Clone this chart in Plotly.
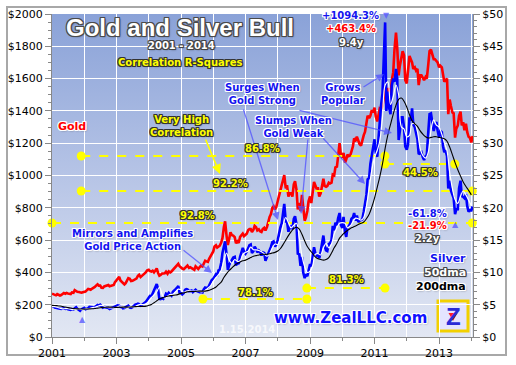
import base64
import plotly.graph_objects as go

# ---------------- data ----------------
years = list(range(2001, 2014))
half_dates = [f"{y}-{m:02d}-{d}" for y in years for m in range(1, 13) for d in ("01", "15")] + ["2014-01-01", "2014-01-15"]
month_dates = [f"{y}-{m:02d}-01" for y in years for m in range(1, 13)] + ["2014-01-01"]

gold = [
    268, 265, 264, 258, 266, 262, 257, 260, 266, 272, 268, 273, 270, 266, 266, 276, 274, 290, 283, 280, 278, 274, 274, 277,
    279, 282, 290, 298, 296, 293, 300, 303, 310, 318, 326, 318, 318, 305, 304, 313, 315, 321, 322, 314, 318, 320, 322, 340,
    351, 367, 372, 350, 340, 330, 325, 333, 355, 364, 360, 346, 348, 354, 358, 362, 378, 385, 371, 377, 385, 396, 402, 413,
    416, 408, 405, 410, 400, 410, 425, 398, 380, 384, 393, 393, 394, 404, 391, 406, 400, 406, 415, 420, 430, 440, 453, 438,
    428, 424, 420, 426, 432, 442, 428, 432, 427, 420, 416, 437, 426, 421, 433, 442, 437, 460, 472, 468, 465, 484, 502, 516,
    530, 560, 568, 554, 558, 565, 585, 612, 680, 716, 625, 570, 610, 648, 630, 628, 618, 580, 592, 582, 620, 630, 640, 625,
    632, 640, 662, 668, 668, 650, 664, 688, 680, 660, 667, 655, 650, 668, 676, 660, 680, 715, 744, 760, 800, 810, 790, 805,
    846, 885, 920, 940, 972, 1003, 920, 940, 870, 890, 890, 870, 945, 965, 910, 790, 830, 780, 880, 810, 720, 740, 780, 840,
    870, 830, 900, 960, 940, 920, 920, 870, 890, 930, 980, 935, 930, 935, 955, 950, 955, 1005, 1000, 1050, 1055, 1120, 1200, 1130,
    1110, 1140, 1080, 1100, 1130, 1120, 1125, 1150, 1180, 1230, 1220, 1240, 1210, 1195, 1185, 1225, 1250, 1270, 1315, 1370, 1355, 1370, 1405, 1390,
    1420, 1365, 1335, 1370, 1415, 1410, 1430, 1480, 1555, 1500, 1540, 1530, 1490, 1590, 1640, 1780, 1885, 1790, 1620, 1680, 1740, 1770, 1745, 1590,
    1570, 1640, 1740, 1720, 1700, 1660, 1670, 1650, 1660, 1560, 1620, 1620, 1600, 1590, 1610, 1600, 1690, 1770, 1780, 1750, 1720, 1720, 1710, 1700,
    1670, 1680, 1670, 1610, 1580, 1590, 1600, 1380, 1470, 1430, 1390, 1385, 1235, 1290, 1310, 1370, 1395, 1310, 1330, 1280, 1320, 1270, 1240, 1235,
    1205, 1245,
]

silver = [
    4.70, 4.75, 4.55, 4.50, 4.45, 4.35, 4.30, 4.35, 4.40, 4.45, 4.35, 4.40, 4.30, 4.25, 4.20, 4.30, 4.25, 4.45, 4.60, 4.35, 4.20, 4.05, 4.30, 4.45,
    4.50, 4.30, 4.35, 4.45, 4.65, 4.60, 4.55, 4.60, 4.65, 4.85, 4.95, 4.85, 5.00, 4.80, 4.55, 4.65, 4.60, 4.55, 4.50, 4.35, 4.45, 4.55, 4.55, 4.70,
    4.80, 4.90, 4.85, 4.65, 4.65, 4.45, 4.50, 4.60, 4.75, 4.85, 4.55, 4.50, 4.60, 4.85, 5.00, 5.05, 5.15, 5.10, 4.85, 4.95, 5.10, 5.30, 5.45, 5.75,
    6.20, 6.35, 6.30, 6.75, 7.00, 7.40, 8.20, 7.50, 5.90, 5.85, 6.00, 5.90, 6.20, 6.70, 6.55, 6.85, 6.60, 6.40, 7.00, 7.25, 7.40, 7.60, 7.90, 6.85,
    6.80, 6.60, 6.80, 7.30, 7.40, 7.35, 7.10, 7.10, 7.20, 6.95, 7.10, 7.30, 7.10, 7.00, 6.95, 6.95, 6.90, 7.35, 7.65, 7.60, 7.65, 7.95, 8.40, 8.80,
    9.00, 9.35, 9.70, 9.45, 10.30, 10.40, 11.50, 13.00, 13.80, 14.80, 12.70, 10.40, 11.20, 11.60, 12.00, 12.30, 12.40, 11.10, 11.50, 11.30, 12.40, 13.00, 13.80, 13.25,
    12.90, 13.20, 13.70, 14.20, 14.30, 13.00, 13.30, 14.00, 13.60, 13.10, 13.40, 13.20, 12.60, 13.10, 13.00, 11.80, 12.40, 12.80, 13.40, 13.90, 14.70, 14.80, 14.00, 14.30,
    15.00, 16.20, 17.00, 17.60, 19.60, 20.60, 17.90, 17.90, 16.30, 16.90, 17.20, 16.70, 18.30, 18.70, 17.40, 12.90, 12.80, 11.00, 12.40, 10.00, 9.10, 9.70, 9.40, 10.40,
    11.30, 10.90, 12.60, 13.90, 13.00, 12.60, 12.70, 12.20, 13.20, 14.50, 15.70, 14.10, 13.40, 13.30, 14.40, 14.50, 15.00, 17.20, 16.50, 17.70, 17.30, 18.40, 19.20, 17.40,
    16.90, 18.60, 16.20, 15.50, 17.00, 17.10, 17.60, 18.30, 18.50, 19.20, 18.00, 18.80, 17.80, 18.00, 18.10, 18.20, 19.40, 20.80, 22.00, 24.40, 24.60, 26.80, 28.20, 29.50,
    30.60, 28.50, 27.90, 30.70, 34.20, 35.70, 37.70, 42.60, 48.70, 35.00, 38.00, 35.50, 34.50, 38.90, 40.00, 39.50, 41.50, 40.00, 30.50, 31.90, 34.00, 34.00, 32.50, 29.50,
    29.00, 29.80, 34.00, 33.50, 35.40, 32.90, 32.50, 31.60, 30.60, 28.30, 28.50, 28.60, 27.80, 27.40, 28.00, 28.20, 31.80, 34.50, 34.60, 33.50, 31.90, 32.70, 33.30, 32.00,
    30.90, 31.90, 31.70, 29.50, 28.60, 28.90, 28.00, 23.00, 24.20, 22.70, 21.80, 21.50, 19.00, 19.80, 19.80, 23.00, 24.20, 21.80, 21.70, 21.50, 22.10, 20.30, 19.40, 19.60,
    19.60, 20.20,
]

silver_50dma = [
    4.70, 4.70, 4.60, 4.45, 4.35, 4.40, 4.38, 4.30, 4.25, 4.30, 4.35, 4.25,
    4.30, 4.40, 4.40, 4.55, 4.60, 4.75, 4.90, 4.85, 4.65, 4.55, 4.50, 4.50,
    4.60, 4.80, 4.75, 4.55, 4.55, 4.70, 4.65, 4.70, 4.95, 5.05, 5.00, 5.15,
    5.50, 6.10, 6.50, 7.00, 7.70, 6.60, 6.00, 6.30, 6.60, 6.60, 7.00, 7.40,
    7.30, 6.90, 7.10, 7.20, 7.10, 7.10, 7.15, 7.05, 7.00, 7.20, 7.55, 7.90,
    8.60, 9.20, 9.60, 10.30, 11.80, 13.00, 11.90, 11.40, 12.00, 11.70, 11.80, 12.70,
    13.10, 13.30, 13.90, 13.50, 13.50, 13.40, 13.20, 12.90, 12.50, 12.90, 13.80, 14.40,
    14.30, 15.50, 17.20, 18.50, 17.70, 16.90, 17.30, 17.60, 15.30, 12.60, 10.90, 10.00,
    10.20, 11.10, 12.80, 12.90, 12.70, 13.80, 14.50, 13.80, 14.40, 15.90, 16.90, 17.60,
    17.70, 17.60, 16.90, 17.20, 17.80, 18.40, 18.30, 18.10, 18.50, 20.20, 23.00, 25.80,
    27.80, 28.90, 30.30, 34.00, 39.00, 39.50, 36.00, 37.20, 39.00, 37.50, 32.50, 32.20,
    31.00, 31.20, 33.00, 33.00, 31.80, 29.20, 28.10, 27.70, 28.60, 32.00, 33.60, 32.80,
    32.50, 31.40, 30.10, 28.80, 25.50, 23.00, 21.30, 20.70, 21.80, 22.60, 22.00, 21.20,
    20.30,
]

silver_200dma = [
    4.90, 4.88, 4.85, 4.80, 4.72, 4.65, 4.55, 4.48, 4.40, 4.37, 4.35, 4.33,
    4.32, 4.33, 4.35, 4.38, 4.42, 4.47, 4.52, 4.58, 4.60, 4.62, 4.62, 4.60,
    4.58, 4.60, 4.62, 4.62, 4.62, 4.64, 4.66, 4.70, 4.72, 4.72, 4.74, 4.78,
    4.90, 5.05, 5.30, 5.60, 5.90, 6.05, 6.20, 6.30, 6.40, 6.45, 6.50, 6.60,
    6.75, 6.85, 6.95, 7.05, 7.05, 7.05, 7.08, 7.10, 7.10, 7.10, 7.18, 7.30,
    7.50, 7.75, 8.10, 8.50, 9.20, 9.80, 10.30, 10.70, 11.10, 11.40, 11.60, 11.80,
    11.90, 12.10, 12.30, 12.50, 12.60, 12.70, 12.80, 12.80, 12.80, 12.90, 13.00, 13.10,
    13.30, 13.70, 14.30, 15.00, 15.70, 16.30, 16.80, 17.00, 16.70, 15.90, 14.90, 14.00,
    13.40, 12.90, 12.40, 12.10, 12.00, 11.90, 12.00, 12.30, 13.00, 13.80, 14.50, 15.30,
    15.80, 16.20, 16.50, 16.80, 17.00, 17.20, 17.40, 17.60, 17.80, 18.30, 19.00, 20.10,
    21.50, 23.20, 24.80, 26.80, 29.20, 31.30, 32.90, 34.50, 35.90, 36.80, 37.00, 36.50,
    35.60, 34.40, 33.50, 33.00, 32.60, 31.90, 31.40, 31.00, 30.80, 30.90, 31.00, 31.00,
    30.90, 30.80, 30.70, 30.30, 29.40, 28.20, 27.00, 25.90, 24.90, 24.00, 23.30, 22.70,
    22.00,
]

# correlation periods (R-square reference lines), levels on the gold scale
corr_start = ["2001-11-28", "2011-04-28", "2001-11-28", "2001-01-01", "2005-09-06", "2008-11-26"]
corr_end = ["2011-04-28", "2013-06-28", "2014-01-12", "2014-01-12", "2008-11-26", "2011-04-30"]
corr_level = [1121, 1071, 904, 706, 235, 303]
corr_labels = ["86.8%", "44.5%", "92.2%", "92.8%", "78.1%", "81.3%"]

# ---------------- figure ----------------
L, R, T, B = 52, 473, 14, 337   # plot-area pixel box


def px(x):
    return (x - L) / (R - L)


def py(y):
    return (B - y) / (B - T)


def outline(c, blur="1px 1px 2px rgba(0,0,0,0.45)"):
    return (f"-1px -1px 0 {c}, 1px -1px 0 {c}, -1px 1px 0 {c}, 1px 1px 0 {c}, "
            f"0 -1px 0 {c}, 0 1px 0 {c}, -1px 0 0 {c}, 1px 0 0 {c}, {blur}")


fig = go.Figure()

fig.add_trace(go.Scatter(x=half_dates, y=gold, mode="lines",
                         line=dict(color="#ff0000", width=2.6), yaxis="y"))
fig.add_trace(go.Scatter(x=half_dates, y=silver, mode="lines",
                         line=dict(color="#0000ff", width=2.6), yaxis="y2"))
fig.add_trace(go.Scatter(x=month_dates, y=silver_50dma, mode="lines",
                         line=dict(color="#ffffff", width=1.2, shape="spline"), yaxis="y2"))
fig.add_trace(go.Scatter(x=month_dates, y=silver_200dma, mode="lines",
                         line=dict(color="#000000", width=1.1, shape="spline"), yaxis="y2"))

for s, e, lv in zip(corr_start, corr_end, corr_level):
    fig.add_trace(go.Scatter(x=[s, e], y=[lv, lv], mode="lines+markers", yaxis="y",
                             line=dict(color="#ffff00", width=2, dash="dash"),
                             marker=dict(color="#ffff00", size=9), cliponaxis=False))

# gradient background
svg = ('<svg xmlns="http://www.w3.org/2000/svg" width="100" height="100" preserveAspectRatio="none">'
       '<defs><linearGradient id="g" x1="0" y1="0" x2="0" y2="1">'
       '<stop offset="0" stop-color="#8aa2d8"/><stop offset="0.5" stop-color="#b6c4e6"/>'
       '<stop offset="1" stop-color="#e2e7f3"/></linearGradient></defs>'
       '<rect width="100" height="100" fill="url(#g)"/></svg>')
src = "data:image/svg+xml;base64," + base64.b64encode(svg.encode()).decode()

ann = []
FB = "DejaVu Sans"


def lab(text, x, y, color, size=10, oc="#333333", family=FB, xanchor="center"):
    ann.append(dict(text=f"<b>{text}</b>", x=px(x), y=py(y), xref="paper", yref="paper",
                    showarrow=False, xanchor=xanchor, yanchor="middle",
                    font=dict(family=family, size=size, color=color, shadow=outline(oc))))


def plain(text, x, y, color, size, family=FB):
    ann.append(dict(text=text, x=px(x), y=py(y), xref="paper", yref="paper", showarrow=False,
                    xanchor="center", yanchor="middle",
                    font=dict(family=family, size=size, color=color)))


def arrow(x0, y0, x1, y1, color="rgba(80,80,255,0.75)", width=1.3):
    ann.append(dict(text="", x=px(x1), y=py(y1), xref="paper", yref="paper",
                    ax=x0 - x1, ay=y0 - y1, showarrow=True, arrowhead=2, arrowsize=1.2,
                    arrowwidth=width, arrowcolor=color))


# arrows first (drawn under the texts)
arrow(205, 138, 220, 174, color="#ffff00", width=1.6)
arrow(182, 249, 212, 273)
arrow(243, 108, 278, 220)
arrow(298, 110, 392, 133)
arrow(308, 138, 301, 214)
arrow(322, 137, 365, 184)
arrow(362, 88, 384, 74)

BLUE = "#1414f0"
lab("Gold and Silver Bull", 180, 27, "#ffffff", size=24, oc="#4a4a4a", family="Liberation Sans")
lab("2001 - 2014", 181, 45, "#ffffff", size=10, oc="#444444")
lab("Correlation R-Squares", 180, 63, "#ffff00", size=10, oc="#333333")
lab("Gold", 72, 126, "#ff0000", size=11, oc="#ffffff")
lab("Very High<br>Correlation", 181, 126, "#ffff00", size=10, oc="#333333")
lab("Surges When<br>Gold Strong", 262, 94, BLUE, size=10, oc="#ffffff")
lab("Slumps When<br>Gold Weak", 293, 127, BLUE, size=10, oc="#ffffff")
lab("Grows<br>Popular", 343, 94, BLUE, size=10, oc="#ffffff")
lab("Mirrors and Amplifies<br>Gold Price Action", 132, 240, BLUE, size=10, oc="#ffffff")
lab("+1094.3%", 350, 15, BLUE, size=10, oc="#ffffff")
lab("+463.4%", 351, 29, "#ff0000", size=10, oc="#ffffff")
lab("9.4y", 351, 42, "#ffffff", size=10, oc="#444444")
lab("-61.8%", 427, 213, BLUE, size=10, oc="#ffffff")
lab("-21.9%", 427, 225, "#ff0000", size=10, oc="#ffffff")
lab("2.2y", 427, 238, "#ffffff", size=10, oc="#444444")
lab("Silver", 468, 258, BLUE, size=11, oc="#ffffff", xanchor="right")
lab("50dma", 468, 272, "#ffffff", size=11, oc="#444444", xanchor="right")
lab("200dma", 468, 286, "#000000", size=11, oc="#ffffff", xanchor="right")
lab("www.ZealLLC.com", 350, 318, "#1010ff", size=15, oc="#ffffff")

pct_pos = [(262, 148), (420, 172), (230, 183), (197, 215), (255, 292), (346, 279)]
for t, (x, y) in zip(corr_labels, pct_pos):
    lab(t, x, y, "#ffff00", size=10, oc="#333333")

plain("<b>1.15.2014</b>", 247, 329, "rgba(255,255,255,0.75)", 10)
for (x, y, s) in [(386, 15, "▼"), (82, 319, "▲"), (455, 224, "▲")]:
    plain(s, x, y, "rgba(90,90,255,0.8)", 8)
# logo
plain("<b>Z</b>", 453, 316, "#2a2ad6", 24, family="Liberation Sans")


def fan_path(cx, cy, w, h):
    return (f"M {px(cx - w / 2)},{py(cy - h / 2)} L {px(cx + w / 2)},{py(cy - h / 2)} "
            f"L {px(cx)},{py(cy + h / 2)} Z")


shapes = [
    dict(type="rect", xref="paper", yref="paper", x0=px(438), x1=px(468), y0=py(331), y1=py(301),
         fillcolor="#e4e4ff", line=dict(color="#f2d000", width=3), layer="below"),
    dict(type="path", xref="paper", yref="paper", path=fan_path(453, 317, 9, 8),
         fillcolor="#ff2020", line=dict(width=0), layer="above"),
    dict(type="rect", xref="paper", yref="paper", x0=px(7), x1=px(506), y0=py(355), y1=py(7),
         fillcolor="rgba(0,0,0,0)", line=dict(color="#a8a8a8", width=2), layer="below"),
]

tickfont = dict(family="DejaVu Sans", size=11, color="#000000")
fig.update_layout(
    width=516, height=365,
    margin=dict(l=L, r=516 - R, t=T, b=365 - B, autoexpand=False),
    paper_bgcolor="#ffffff", plot_bgcolor="rgba(0,0,0,0)",
    showlegend=False,
    images=[dict(source=src, xref="paper", yref="paper", x=0, y=1, sizex=1, sizey=1,
                 sizing="stretch", layer="below")],
    xaxis=dict(type="date", range=["2001-01-01", "2014-01-20"], dtick="M24", tick0="2001-01-01",
               tickformat="%Y", ticks="outside", ticklen=6, tickcolor="#888888", automargin=False,
               showgrid=True, gridcolor="#ffffff", gridwidth=1,
               minor=dict(dtick="M12", tick0="2001-01-01", showgrid=True, gridcolor="#ffffff",
                          ticks="outside", ticklen=3, tickcolor="#888888"),
               showline=True, linecolor="#888888", linewidth=1, tickfont=tickfont, zeroline=False),
    yaxis=dict(range=[0, 2000], dtick=200, tickprefix="$", tickformat="d", ticks="outside",
               ticklen=6, tickcolor="#888888", showgrid=True, gridcolor="#ffffff", gridwidth=1,
               automargin=False,
               minor=dict(dtick=50, ticks="outside", ticklen=3, tickcolor="#888888", showgrid=False),
               showline=True, linecolor="#888888", tickfont=tickfont, zeroline=False),
    yaxis2=dict(range=[0, 50], dtick=5, tickprefix="$", overlaying="y", side="right",
                ticks="outside", ticklen=6, tickcolor="#888888", showgrid=False, automargin=False,
                minor=dict(dtick=1, ticks="outside", ticklen=3, tickcolor="#888888"),
                showline=True, linecolor="#888888", tickfont=tickfont, zeroline=False),
    annotations=ann,
    shapes=shapes,
)

fig.write_html("out.html", config={"displayModeBar": False},
               post_script="document.body.style.margin='0';")
